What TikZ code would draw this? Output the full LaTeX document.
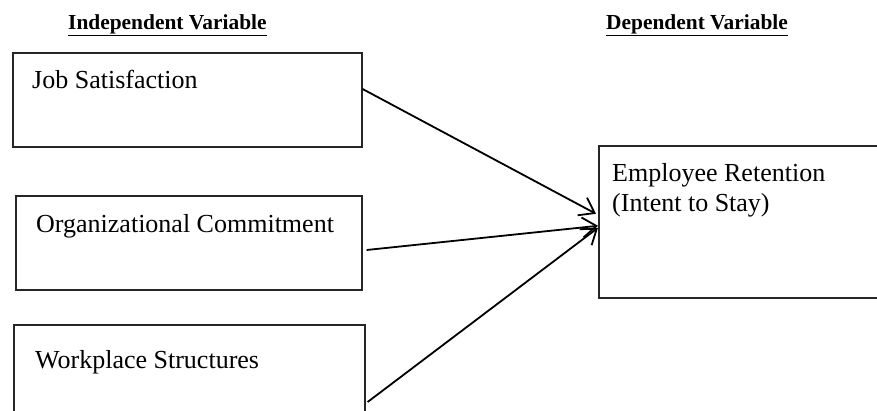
\documentclass[tikz,border=0pt]{standalone}
\usepackage{fontspec}
\setmainfont{Liberation Serif}
\usetikzlibrary{arrows.meta,calc}
\begin{document}
\begin{tikzpicture}[x=1pt,y=-1pt,
  varbox/.style={draw=black!85,line width=1.6pt,rectangle,inner sep=0pt},
  boxtext/.style={anchor=base west,inner sep=0pt,font=\fontsize{26}{30}\selectfont},
  headtext/.style={anchor=base west,inner sep=0pt,font=\fontsize{21.4}{25}\selectfont\bfseries},
  link/.style={line width=1.8pt,-{Straight Barb[length=14pt,width=20pt,line width=1.8pt]}}]
\useasboundingbox (0,0) rectangle (877,410);
\clip (0,0) rectangle (877,410);
% boxes
\node[varbox,minimum width=349pt,minimum height=94pt,anchor=north west] (job) at (12,52) {};
\node[varbox,minimum width=346pt,minimum height=94pt,anchor=north west] (org) at (15,195) {};
\node[varbox,minimum width=351pt,minimum height=110pt,anchor=north west] (work) at (13,324) {};
\node[varbox,minimum width=310pt,minimum height=152pt,anchor=north west] (emp) at (598,145) {};
% headers
\node[headtext] (ivh) at (68,29) {\underline{Independent Variable}};
\node[headtext] (dvh) at (606,29) {\underline{Dependent Variable}};
% texts
\node[boxtext] (jobt) at (32,88) {Job Satisfaction};
\node[boxtext] (orgt) at (36,232) {Organizational Commitment};
\node[boxtext] (workt) at (35,368) {Workplace Structures};
\node[boxtext] (empt1) at (612,181) {Employee Retention};
\node[boxtext] (empt2) at (612,211) {(Intent to Stay)};
% arrow endpoints
\coordinate (s1) at ($(job.north east)+(0,37)$);
\coordinate (s2) at ($(org.north east)+(4,55)$);
\coordinate (s3) at ($(work.north east)+(2,78)$);
\coordinate (t1) at ($(emp.west)+(-2,-8)$);
\coordinate (t2) at ($(emp.west)+(0,4)$);
\coordinate (t3) at ($(emp.west)+(0,6)$);
\draw[link] (s1) -- (t1);
\draw[link] (s2) -- (t2);
\draw[link] (s3) -- (t3);
\end{tikzpicture}
\end{document}
